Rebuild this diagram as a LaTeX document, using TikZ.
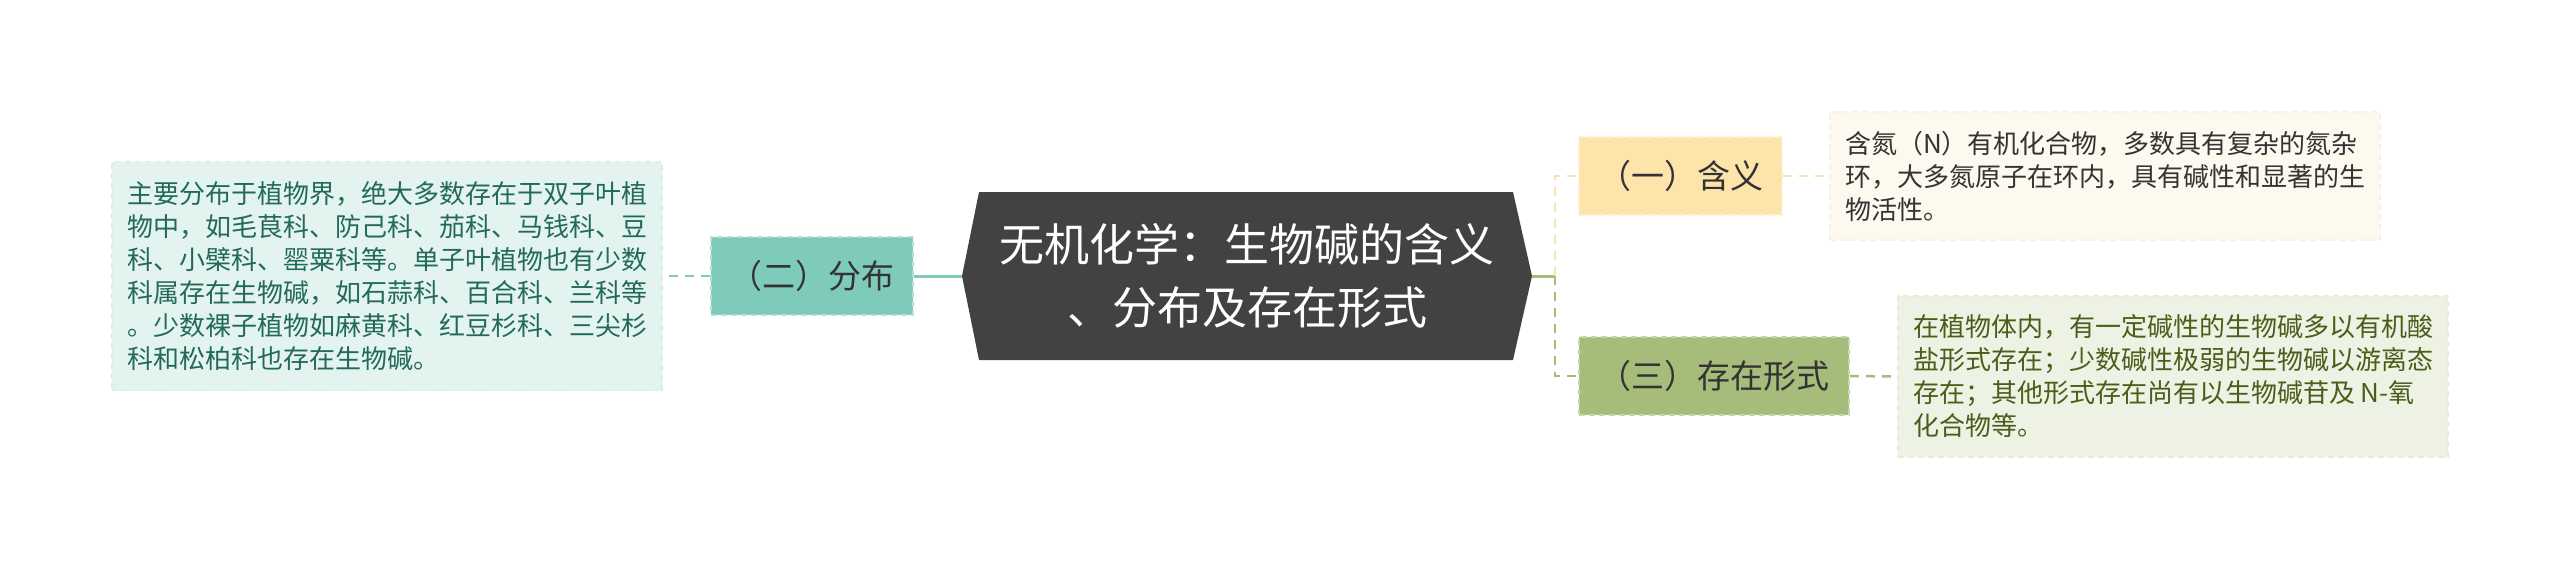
\documentclass[tikz,border=0pt]{standalone}
\usepackage{fontspec}
\setmainfont{Noto Sans CJK SC}
\usepackage{xcolor}
\usepackage{tikz}
\usetikzlibrary{shapes,positioning,calc}

\definecolor{rootgray}{HTML}{424242}
\definecolor{labeltext}{HTML}{333333}
\definecolor{fenbucol}{HTML}{7FCBBB}
\definecolor{fenbunote}{HTML}{E3F4F0}
\definecolor{fenbutext}{HTML}{236A56}
\definecolor{yinyicol}{HTML}{FDE4AB}
\definecolor{yinyiline}{HTML}{F7E4B4}
\definecolor{yinyinote}{HTML}{FEF9EE}
\definecolor{cunzaicol}{HTML}{A5BC7A}
\definecolor{cunzainote}{HTML}{EEF2E5}
\definecolor{cunzaitext}{HTML}{4A5E1A}

\begin{document}
\begin{tikzpicture}[x=0.5pt,y=-0.5pt,
    every node/.style={inner sep=0pt},
    topicbox/.style={fill=#1, draw=#1!60!white, line width=0.8pt, dash pattern=on 3pt off 2pt,
        minimum height=39pt, text=labeltext, font=\fontsize{16.5}{19}\selectfont},
    notebox/.style={fill=#1, draw=#1!97!black, line width=0.8pt, dash pattern=on 3pt off 2pt,
        minimum width=275pt, align=left, font=\fontsize{13}{16.5}\selectfont},
    link/.style={draw=#1, line width=1.5pt},
    dashlink/.style={draw=#1, line width=1.25pt, dash pattern=on 4.5pt off 3.5pt}]
    \useasboundingbox (0,0) rectangle (2560,569);
    \coordinate (rootW) at (962,276);
    \coordinate (rootE) at (1532,276);
    \coordinate (bus) at (1555,276);
    \fill[rootgray] (rootW) -- (979,192) -- (1513,192) -- (rootE) -- (1513,360) -- (979,360) -- cycle;
    \node[text=white, align=center, font=\fontsize{22.5}{31.5}\selectfont] (root) at (1247,276) {无机化学：生物碱的含义\\、分布及存在形式};
    \node[topicbox=fenbucol, minimum width=101pt] (fenbu) at (812,276) {（二）分布};
    \node[notebox=fenbunote, minimum height=114.5pt, text=fenbutext] (fenbudesc) at (387,276) {主要分布于植物界，绝大多数存在于双子叶植\\物中，如毛茛科、防己科、茄科、马钱科、豆\\科、小檗科、罂粟科等。单子叶植物也有少数\\科属存在生物碱，如石蒜科、百合科、兰科等\\。少数裸子植物如麻黄科、红豆杉科、三尖杉\\科和松柏科也存在生物碱。};
    \node[topicbox=yinyicol, minimum width=101.5pt] (yinyi) at (1680.5,176) {（一）含义};
    \node[notebox=yinyinote, minimum height=64pt, text=labeltext] (yinyidesc) at (2105,176) {含氮（N）有机化合物，多数具有复杂的氮杂\\环，大多氮原子在环内，具有碱性和显著的生\\物活性。};
    \node[topicbox=cunzaicol, minimum width=135pt] (cunzai) at (1714,376) {（三）存在形式};
    \node[notebox=cunzainote, minimum height=80.5pt, text=cunzaitext] (cunzaidesc) at (2173,376.5) {在植物体内，有一定碱性的生物碱多以有机酸\\盐形式存在；少数碱性极弱的生物碱以游离态\\存在；其他形式存在尚有以生物碱苷及 N-氧\\化合物等。};
    \draw[link=fenbucol] (rootW) -- (fenbu.east);
    \draw[dashlink=fenbucol] (fenbu.west) -- (fenbudesc.east);
    \draw[link=cunzaicol] (rootE) -- (bus);
    \draw[dashlink=yinyiline] (bus) |- (yinyi.west);
    \draw[dashlink=cunzaicol] (bus) |- (cunzai.west);
    \draw[dashlink=yinyiline] (yinyi.east) -- (yinyidesc.west);
    \draw[dashlink=cunzaicol] (cunzai.east) -- (cunzaidesc.west);
\end{tikzpicture}
\end{document}
